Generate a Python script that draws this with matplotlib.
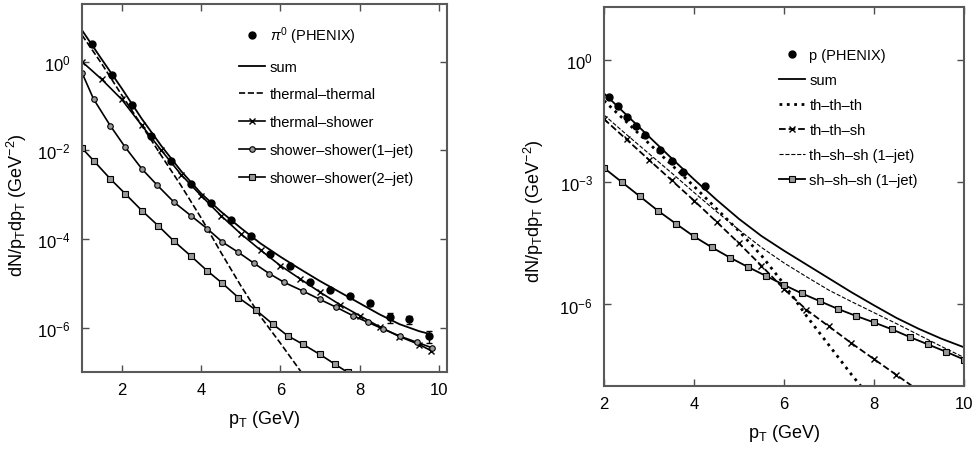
import numpy as np
import matplotlib.pyplot as plt
from matplotlib.ticker import NullLocator

plt.rcParams['font.family'] = ['Liberation Sans', 'DejaVu Sans']
plt.rcParams['mathtext.fontset'] = 'custom'
plt.rcParams['mathtext.rm'] = 'Liberation Sans'
plt.rcParams['mathtext.it'] = 'Liberation Sans:italic'

# ---- left panel: pi0 (values are log10 of dN/pTdpT) ----
pt_pi = [1.25, 1.75, 2.25, 2.75, 3.25, 3.75, 4.25, 4.75, 5.25, 5.75,
         6.25, 6.75, 7.25, 7.75, 8.25, 8.75, 9.25, 9.75]
log_pi = [0.41, -0.29, -0.97, -1.67, -2.23, -2.76, -3.19, -3.56, -3.93, -4.34,
          -4.60, -4.98, -5.15, -5.28, -5.45, -5.77, -5.81, -6.19]
err_pi = [0, 0, 0, 0, 0, 0, 0, 0, 0, 0, 0, 0, 0, 0.12, 0.15, 0.25, 0.2, 0.3]

pt_grid = [1.0, 1.5, 2.0, 2.5, 3.0, 3.5, 4.0, 4.5, 5.0, 5.5, 6.0, 6.5,
           7.0, 7.5, 8.0, 8.5, 9.0, 9.5, 9.8]
log_sum_pi = [0.71, 0.05, -0.60, -1.28, -1.90, -2.47, -2.97, -3.38, -3.75, -4.10,
              -4.40, -4.68, -4.95, -5.20, -5.45, -5.70, -5.92, -6.08, -6.15]
log_ts = [0.0, -0.40, -0.85, -1.43, -2.00, -2.55, -3.02, -3.47, -3.88, -4.25,
          -4.60, -4.90, -5.20, -5.48, -5.73, -5.98, -6.20, -6.38, -6.52]

pt_tt = [1.0, 1.5, 2.0, 2.5, 3.0, 3.5, 4.0, 4.5, 5.0, 5.5, 6.0, 6.5, 7.0]
log_tt = [0.60, -0.05, -0.75, -1.43, -2.12, -2.80, -3.52, -4.30, -5.05, -5.75,
          -6.35, -6.97, -7.65]

pt_ss1 = [1.0, 1.29, 1.71, 2.09, 2.51, 2.89, 3.32, 3.74, 4.16, 4.54, 4.94, 5.34,
          5.72, 6.10, 6.56, 6.99, 7.41, 7.83, 8.21, 8.59, 9.01, 9.44, 9.81]
log_ss1 = [-0.25, -0.84, -1.44, -1.93, -2.42, -2.78, -3.17, -3.47, -3.77, -4.07,
           -4.30, -4.55, -4.78, -4.98, -5.17, -5.36, -5.54, -5.73, -5.88, -6.03,
           -6.19, -6.33, -6.45]

pt_ss2 = [1.0, 1.29, 1.71, 2.09, 2.51, 2.92, 3.32, 3.74, 4.16, 4.54, 4.94, 5.38,
          5.81, 6.18, 6.56, 6.99, 7.37, 7.70, 8.0]
log_ss2 = [-1.95, -2.23, -2.64, -2.98, -3.36, -3.70, -4.05, -4.38, -4.72, -5.00,
           -5.32, -5.60, -5.92, -6.18, -6.37, -6.60, -6.82, -7.01, -7.18]

# ---- right panel: proton ----
pt_p = [2.1, 2.3, 2.5, 2.7, 2.9, 3.25, 3.5, 3.75, 4.25]
log_p = [-0.90, -1.14, -1.39, -1.63, -1.84, -2.21, -2.49, -2.74, -3.10]

pt_r = [2.0, 2.5, 3.0, 3.5, 4.0, 4.5, 5.0, 5.5, 6.0, 6.5, 7.0, 7.5, 8.0,
        8.5, 9.0, 9.5, 10.0]
log_sum_p = [-0.82, -1.35, -1.88, -2.41, -2.93, -3.43, -3.90, -4.32, -4.68, -5.02,
             -5.36, -5.70, -6.02, -6.33, -6.60, -6.84, -7.05]
log_tss = [-1.35, -1.83, -2.30, -2.77, -3.25, -3.72, -4.17, -4.60, -4.98, -5.32,
           -5.65, -5.93, -6.20, -6.47, -6.75, -7.03, -7.30]

pt_ttt = [2.0, 2.5, 3.0, 3.5, 4.0, 4.5, 5.0, 5.5, 6.0, 6.5, 7.0, 7.5, 8.0]
log_ttt = [-1.00, -1.52, -2.05, -2.57, -3.10, -3.65, -4.20, -4.80, -5.50, -6.28,
           -7.00, -7.72, -8.40]

pt_tts = [2.0, 2.5, 3.0, 3.5, 4.0, 4.5, 5.0, 5.5, 6.0, 6.5, 7.0, 7.5, 8.0, 8.5, 9.0]
log_tts = [-1.45, -1.95, -2.45, -2.95, -3.45, -3.97, -4.50, -5.05, -5.62, -6.13,
           -6.54, -6.95, -7.34, -7.73, -8.12]

pt_sss = [2.0, 2.4, 2.8, 3.2, 3.6, 4.0, 4.4, 4.8, 5.2, 5.6, 6.0, 6.4, 6.8, 7.2,
          7.6, 8.0, 8.4, 8.8, 9.2, 9.6, 10.0]
log_sss = [-2.65, -3.00, -3.35, -3.70, -4.02, -4.33, -4.60, -4.85, -5.08, -5.30,
           -5.52, -5.73, -5.92, -6.11, -6.28, -6.44, -6.61, -6.80, -6.98, -7.16, -7.35]


def lin(v):
    return np.power(10.0, np.array(v))


fig = plt.figure(figsize=(9.75, 4.6), dpi=100)
ax1 = fig.add_axes([0.0841, 0.1891, 0.3744, 0.800])
ax2 = fig.add_axes([0.6195, 0.1587, 0.3692, 0.824])

mk = dict(mfc='0.6', mec='black', ms=4, mew=0.8)

# left
y_pi = lin(log_pi)
ax1.plot(pt_pi, y_pi, 'o', color='black', ms=5, label=r'$\pi^0$ (PHENIX)')
ax1.errorbar(pt_pi, y_pi, yerr=y_pi * np.array(err_pi), fmt='none', ecolor='black',
             capsize=2, elinewidth=1)
ax1.plot(pt_grid, lin(log_sum_pi), '-', color='black', lw=1.3, label='sum')
ax1.plot(pt_tt, lin(log_tt), '--', color='black', lw=1.2, label='thermal\u2013thermal')
ax1.plot(pt_grid, lin(log_ts), '-', color='black', lw=1.2, marker='x', ms=4,
         mew=1.0, label='thermal\u2013shower')
ax1.plot(pt_ss1, lin(log_ss1), '-', color='black', lw=1.2, marker='o',
         label='shower\u2013shower(1\u2013jet)', **mk)
ax1.plot(pt_ss2, lin(log_ss2), '-', color='black', lw=1.2, marker='s',
         label='shower\u2013shower(2\u2013jet)', **mk)
ax1.set_yscale('log')
ax1.set_xlim(1.0, 10.2)
ax1.set_ylim(1e-7, 20)
ax1.set_yticks([1, 1e-2, 1e-4, 1e-6])
ax1.set_xticks([2, 4, 6, 8, 10])

# right
ax2.plot(pt_p, lin(log_p), 'o', color='black', ms=5, label='p (PHENIX)')
ax2.plot(pt_r, lin(log_sum_p), '-', color='black', lw=1.3, label='sum')
ax2.plot(pt_ttt, lin(log_ttt), ':', color='black', lw=2.0, label='th\u2013th\u2013th')
ax2.plot(pt_tts, lin(log_tts), '--', color='black', lw=1.3, marker='x', ms=4,
         mew=1.0, label='th\u2013th\u2013sh')
ax2.plot(pt_r, lin(log_tss), '--', color='black', lw=0.8, label='th\u2013sh\u2013sh (1\u2013jet)')
ax2.plot(pt_sss, lin(log_sss), '-', color='black', lw=1.3, marker='s',
         label='sh\u2013sh\u2013sh (1\u2013jet)', **mk)
ax2.set_yscale('log')
ax2.set_xlim(2, 10)
ax2.set_ylim(1e-8, 20)
ax2.set_yticks([1, 1e-3, 1e-6])
ax2.set_xticks([2, 4, 6, 8, 10])

for ax in (ax1, ax2):
    ax.yaxis.set_minor_locator(NullLocator())
    ax.tick_params(which='both', direction='in', top=True, right=True,
                   length=5, width=1, labelsize=12, color='0.3')
    ax.tick_params(axis='y', pad=8)
    ax.tick_params(axis='x', pad=7)
    for s in ax.spines.values():
        s.set_color('0.35')
        s.set_linewidth(1.5)
    ax.set_xlabel(r'p$_\mathrm{T}$ (GeV)', fontsize=13, labelpad=8)
    ax.set_ylabel(r'dN/p$_\mathrm{T}$dp$_\mathrm{T}$ (GeV$^{-2}$)', fontsize=13)

ax1.yaxis.set_label_coords(-0.145, 0.455)
ax2.yaxis.set_label_coords(-0.16, 0.465)

ax1.legend(loc='upper left', bbox_to_anchor=(0.41, 0.965), frameon=False,
           fontsize=10.5, borderpad=0, labelspacing=0.95, handlelength=1.8,
           handletextpad=0.3)
ax2.legend(loc='upper left', bbox_to_anchor=(0.465, 0.91), frameon=False,
           fontsize=10.5, borderpad=0, labelspacing=0.75, handlelength=1.8,
           handletextpad=0.3)

fig.savefig('out.png', dpi=100)
